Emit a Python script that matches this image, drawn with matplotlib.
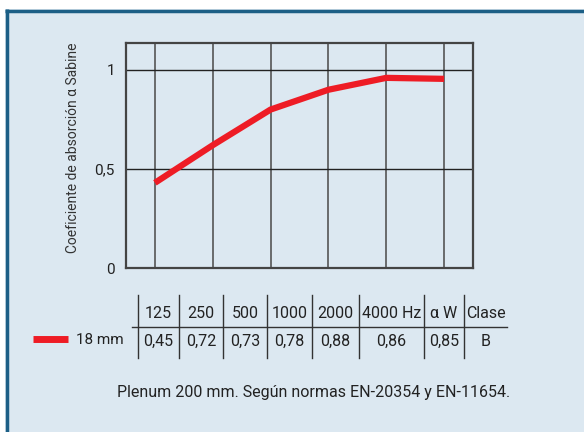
import matplotlib.pyplot as plt
from matplotlib.patches import Rectangle

plt.rcParams['font.family'] = ['Roboto', 'DejaVu Sans']

# curve as drawn on the chart
positions = [0, 1, 2, 3, 4, 5]
curve = [0.43, 0.62, 0.80, 0.90, 0.96, 0.955]
yticks = [0, 0.5, 1]
ytick_labels = ['0', '0,5', '1']

# table under the chart
headers = ['125', '250', '500', '1000', '2000', '4000 Hz', '\u03b1 W', 'Clase']
values = ['0,45', '0,72', '0,73', '0,78', '0,88', '0,86', '0,85', 'B']
series_name = '18 mm'
note = 'Plenum 200 mm. Según normas EN-20354 y EN-11654.'

bg = '#dce8f1'
border = '#1c5f86'
red = '#ee1c25'
txt = '#222222'
W, H = 584, 432

fig = plt.figure(figsize=(W / 100, H / 100), dpi=100)
fig.patch.set_facecolor('white')

# overlay in pixel units for the panel, table and texts
ov = fig.add_axes([0, 0, 1, 1])
ov.set_xlim(0, W)
ov.set_ylim(H, 0)
ov.axis('off')
ov.add_patch(Rectangle((5, 9), W, H, facecolor=bg, edgecolor='none'))
ov.plot([5, W], [10.5, 10.5], color=border, lw=2.5, solid_capstyle='butt')
ov.plot([6.5, 6.5], [9, H], color=border, lw=2.5, solid_capstyle='butt')

# chart
ax = fig.add_axes([126 / W, 1 - 268 / H, 347 / W, 225 / H])
ax.set_facecolor('none')
ax.set_xlim(-0.5, 5.5)
ax.set_ylim(0, 1.136)
for x in positions:
    ax.axvline(x, color='#555555', lw=1.2, zorder=1)
for y in yticks[1:]:
    ax.axhline(y, color='#222222', lw=1.0, zorder=1)
ax.plot(positions, curve, color=red, lw=4.5, solid_capstyle='butt', zorder=3)
ax.set_xticks([])
ax.set_yticks(yticks)
ax.set_yticklabels(ytick_labels, fontsize=11, color=txt)
ax.tick_params(axis='y', length=0, pad=8)
for s in ax.spines.values():
    s.set_color('#444444')
    s.set_linewidth(1.6)

ov.text(73, 148, 'Coeficiente de absorción \u03b1 Sabine', rotation=90,
        ha='center', va='center', fontsize=10, color='#333333')

# table
edges = [138, 179, 223, 267, 312, 359, 424, 464, 507]
row_head, row_val = 313, 341
ov.plot([132, 507], [326.5, 326.5], color='#333333', lw=1.0)
for x in edges[:-1]:
    ov.plot([x, x], [295, 358], color='#333333', lw=1.0)
for i, (h, v) in enumerate(zip(headers, values)):
    cx = (edges[i] + edges[i + 1]) / 2
    ov.text(cx, row_head, h, ha='center', va='center', fontsize=11.5, color=txt)
    ov.text(cx, row_val, v, ha='center', va='center', fontsize=11.5, color=txt)

ov.plot([33, 68], [339, 339], color=red, lw=5, solid_capstyle='butt')
ov.text(76, 340, series_name, ha='left', va='center', fontsize=11, color=txt)

ov.text(510, 393, note, ha='right', va='center', fontsize=11.5, color=txt)

fig.savefig('out.png', dpi=100)
